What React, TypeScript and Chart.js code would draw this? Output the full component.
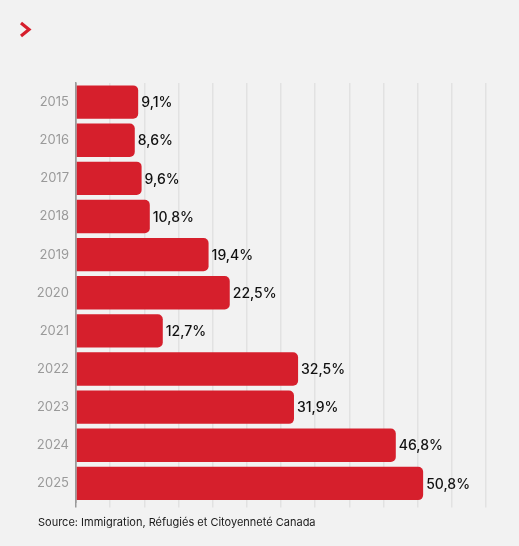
import React, { useEffect, useRef } from 'react';
import { Chart, registerables } from 'chart.js';

Chart.register(...registerables);

const years = ['2015', '2016', '2017', '2018', '2019', '2020', '2021', '2022', '2023', '2024', '2025'];
const shares = [9.1, 8.6, 9.6, 10.8, 19.4, 22.5, 12.7, 32.5, 31.9, 46.8, 50.8];
const sourceText = 'Source: Immigration, Réfugiés et Citoyenneté Canada';

const FONT = 'Inter, "Noto Sans", sans-serif';

// draws "9,1%" etc. just past the end of each bar
const valueLabels = {
  id: 'valueLabels',
  afterDatasetsDraw(chart: any) {
    const ctx = chart.ctx;
    const meta = chart.getDatasetMeta(0);
    ctx.save();
    ctx.font = `500 14px ${FONT}`;
    ctx.fillStyle = '#111111';
    ctx.textAlign = 'left';
    ctx.textBaseline = 'middle';
    meta.data.forEach((bar: any, i: number) => {
      const txt = shares[i].toFixed(1).replace('.', ',') + '%';
      ctx.fillText(txt, bar.x + 3, bar.y + 1);
    });
    ctx.restore();
  },
};

const App = () => {
  const chartRef = useRef<HTMLCanvasElement>(null);

  useEffect(() => {
    document.body.style.margin = '0';
    const chart = new Chart(chartRef.current!, {
      type: 'bar',
      data: {
        labels: years,
        datasets: [
          {
            data: shares,
            backgroundColor: '#D61F2C',
            borderWidth: 0,
            borderRadius: { topRight: 5, bottomRight: 5, topLeft: 0, bottomLeft: 0 },
            borderSkipped: 'left',
            barPercentage: 1,
            categoryPercentage: 0.875,
          },
        ],
      },
      options: {
        indexAxis: 'y',
        animation: false,
        responsive: false,
        layout: { padding: { top: 83, right: 33, bottom: 38.5, left: 0 } },
        scales: {
          x: {
            min: 0,
            max: 60,
            ticks: { display: false, stepSize: 5 },
            grid: {
              color: (c: any) => (c.index === 0 ? '#9A9A9A' : '#E2E2E2'),
              lineWidth: 1.5,
              drawTicks: true,
              tickLength: 5,
            },
            border: { display: false },
          },
          y: {
            afterFit: (scale: any) => {
              scale.width = 76;
            },
            ticks: {
              color: '#9A9A9A',
              font: { family: FONT, size: 13 },
              padding: 7,
            },
            grid: { display: false, drawTicks: false },
            border: { display: true, color: '#9A9A9A', width: 1.5 },
          },
        },
        plugins: {
          legend: { display: false },
          tooltip: { enabled: false },
        },
      },
      plugins: [valueLabels],
    });

    return () => chart.destroy();
  }, []);

  return (
    <div style={{ position: 'relative', width: 519, height: 546, background: '#F2F2F2', fontFamily: FONT }}>
      <svg width="16" height="20" style={{ position: 'absolute', left: 18, top: 20 }}>
        <polyline points="3,3 11,9.5 3,16" fill="none" stroke="#D61F2C" strokeWidth="3.2" />
      </svg>
      <canvas ref={chartRef} width={519} height={546} style={{ position: 'absolute', left: 0, top: 0 }} />
      <div style={{ position: 'absolute', left: 38, top: 515, fontSize: 11, color: '#1A1A1A' }}>{sourceText}</div>
    </div>
  );
};

export default App;
